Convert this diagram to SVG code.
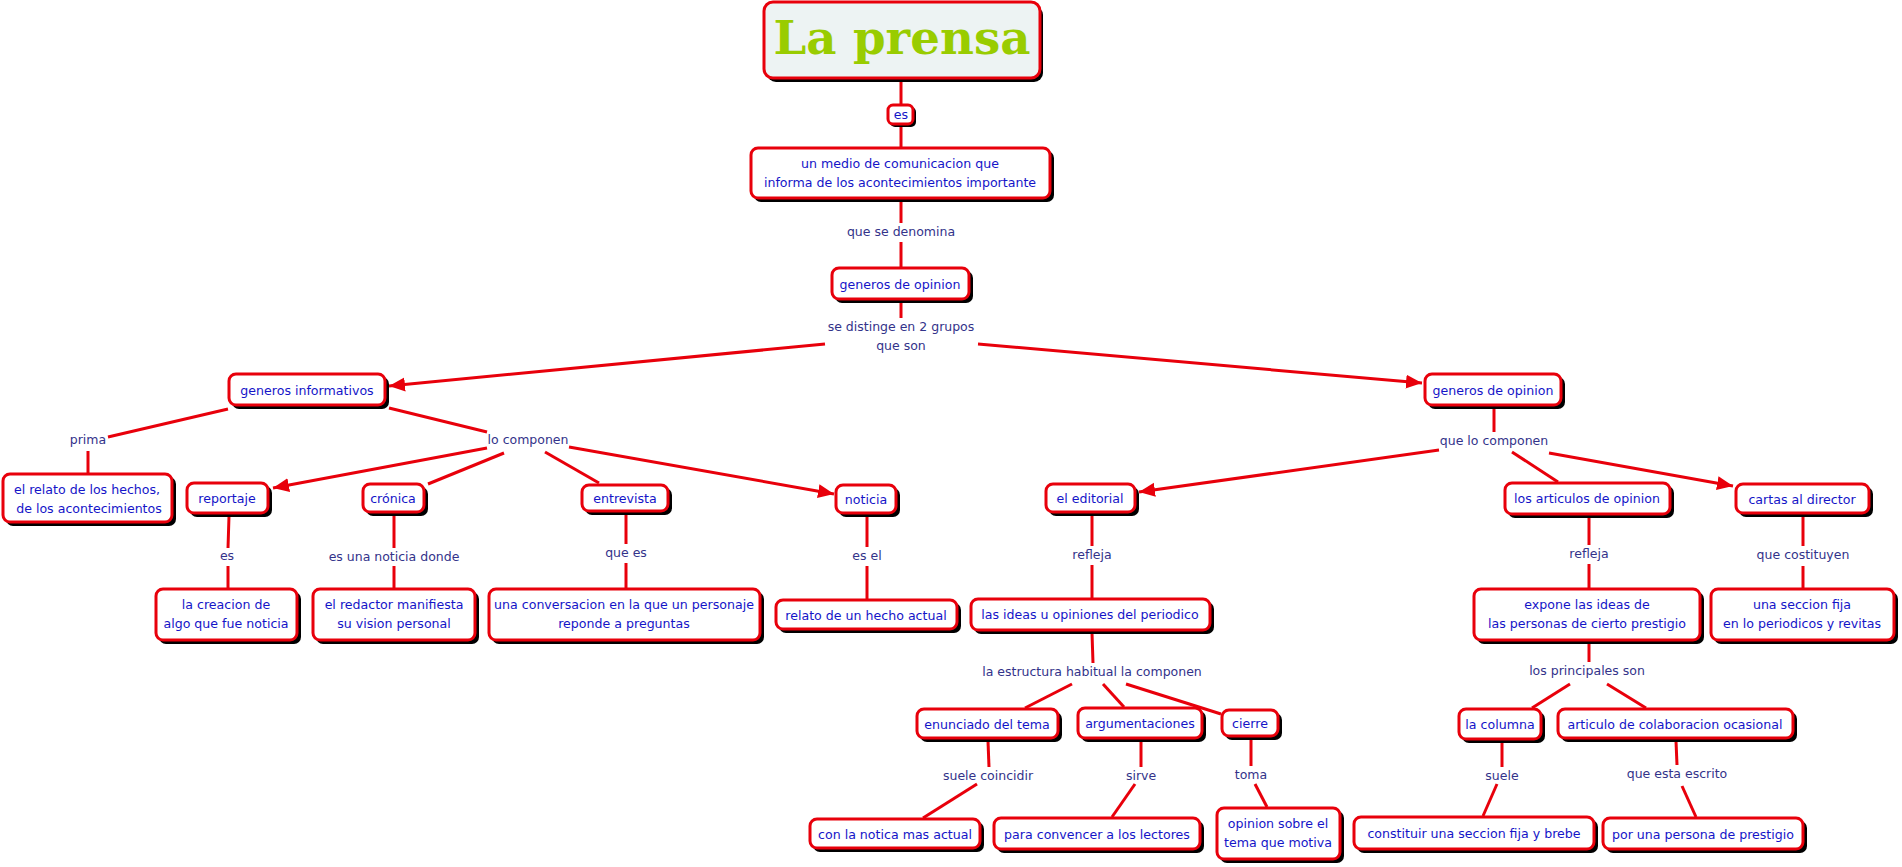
<svg xmlns="http://www.w3.org/2000/svg" width="1902" height="867" viewBox="0 0 1902 867">
<defs>
<style>
.sh{fill:#000}
.bx{fill:#fff;stroke:#e8000b;stroke-width:3}
.tbx{fill:#edf3f3;stroke:#e8000b;stroke-width:3}
.nt{font-family:"DejaVu Sans",sans-serif;font-size:12.6px;fill:#1515c8;text-anchor:middle}
.lt{font-family:"DejaVu Sans",sans-serif;font-size:12.5px;fill:#33338a;text-anchor:middle}
.title{font-family:"DejaVu Serif",serif;font-weight:bold;font-size:46px;fill:#99cc00;text-anchor:middle}
#connectors line{stroke:#e8000b;stroke-width:3;fill:none}
</style>
<marker id="ah" markerUnits="userSpaceOnUse" markerWidth="18" markerHeight="16" viewBox="0 0 18 16" refX="16" refY="8" orient="auto">
<path d="M0,1 L16,8 L0,15 Z" fill="#e8000b"/>
</marker>
</defs>
<rect width="1902" height="867" fill="#fff"/>
<g id="connectors">
<line x1="901" y1="80" x2="901" y2="104"/>
<line x1="901" y1="126" x2="901" y2="147"/>
<line x1="901" y1="201" x2="901" y2="223"/>
<line x1="901" y1="242" x2="901" y2="267"/>
<line x1="901" y1="302" x2="901" y2="318"/>
<line x1="825" y1="344" x2="389" y2="386" marker-end="url(#ah)"/>
<line x1="978" y1="344" x2="1422" y2="383" marker-end="url(#ah)"/>
<line x1="228" y1="409" x2="108" y2="437"/>
<line x1="88" y1="451" x2="88" y2="473"/>
<line x1="389" y1="408" x2="487" y2="432"/>
<line x1="487" y1="448" x2="273" y2="488" marker-end="url(#ah)"/>
<line x1="504" y1="453" x2="428" y2="484"/>
<line x1="545" y1="452" x2="599" y2="483"/>
<line x1="569" y1="447" x2="834" y2="494" marker-end="url(#ah)"/>
<line x1="229" y1="516" x2="228" y2="548"/>
<line x1="228" y1="566" x2="228" y2="588"/>
<line x1="394" y1="515" x2="394" y2="548"/>
<line x1="394" y1="566" x2="394" y2="588"/>
<line x1="626" y1="513" x2="626" y2="544"/>
<line x1="626" y1="563" x2="626" y2="588"/>
<line x1="867" y1="516" x2="867" y2="547"/>
<line x1="867" y1="566" x2="867" y2="599"/>
<line x1="1494" y1="408" x2="1494" y2="432"/>
<line x1="1439" y1="450" x2="1139" y2="492" marker-end="url(#ah)"/>
<line x1="1512" y1="452" x2="1558" y2="482"/>
<line x1="1549" y1="453" x2="1733" y2="486" marker-end="url(#ah)"/>
<line x1="1092" y1="515" x2="1092" y2="546"/>
<line x1="1092" y1="565" x2="1092" y2="598"/>
<line x1="1092" y1="633" x2="1093" y2="663"/>
<line x1="1072" y1="684" x2="1025" y2="708"/>
<line x1="1103" y1="684" x2="1124" y2="707"/>
<line x1="1126" y1="684" x2="1221" y2="714"/>
<line x1="988" y1="741" x2="989" y2="767"/>
<line x1="977" y1="784" x2="923" y2="818"/>
<line x1="1141" y1="741" x2="1141" y2="767"/>
<line x1="1135" y1="784" x2="1112" y2="817"/>
<line x1="1251" y1="739" x2="1251" y2="766"/>
<line x1="1255" y1="784" x2="1267" y2="807"/>
<line x1="1589" y1="517" x2="1589" y2="545"/>
<line x1="1589" y1="564" x2="1589" y2="588"/>
<line x1="1803" y1="516" x2="1803" y2="546"/>
<line x1="1803" y1="566" x2="1803" y2="588"/>
<line x1="1589" y1="643" x2="1589" y2="662"/>
<line x1="1570" y1="684" x2="1532" y2="708"/>
<line x1="1607" y1="684" x2="1646" y2="708"/>
<line x1="1502" y1="742" x2="1502" y2="767"/>
<line x1="1497" y1="784" x2="1483" y2="816"/>
<line x1="1676" y1="741" x2="1677" y2="765"/>
<line x1="1682" y1="786" x2="1696" y2="817"/>
</g>
<g id="labels">
<text class="lt" x="901" y="236">que se denomina</text>
<text class="lt" x="901" y="331">se distinge en 2 grupos</text>
<text class="lt" x="901" y="350">que son</text>
<text class="lt" x="88" y="444">prima</text>
<text class="lt" x="528" y="444">lo componen</text>
<text class="lt" x="227" y="560">es</text>
<text class="lt" x="394" y="561">es una noticia donde</text>
<text class="lt" x="626" y="557">que es</text>
<text class="lt" x="867" y="560">es el</text>
<text class="lt" x="1494" y="445">que lo componen</text>
<text class="lt" x="1092" y="559">refleja</text>
<text class="lt" x="1589" y="558">refleja</text>
<text class="lt" x="1803" y="559">que costituyen</text>
<text class="lt" x="1092" y="676">la estructura habitual la componen</text>
<text class="lt" x="1587" y="675">los principales son</text>
<text class="lt" x="988" y="780">suele coincidir</text>
<text class="lt" x="1141" y="780">sirve</text>
<text class="lt" x="1251" y="779">toma</text>
<text class="lt" x="1502" y="780">suele</text>
<text class="lt" x="1677" y="778">que esta escrito</text>
</g>
<g id="n_title"><rect class="sh" x="767" y="6" width="276" height="76" rx="9"/><rect class="tbx" x="764" y="2" width="276" height="76" rx="9"/><text class="title" x="902" y="54" textLength="257" lengthAdjust="spacingAndGlyphs">La prensa</text></g>
<g id="n_es"><rect class="sh" x="890" y="107" width="26" height="20" rx="5"/><rect class="bx" x="888" y="105" width="25" height="19" rx="5"/><text class="nt" x="901" y="119">es</text></g>
<g id="n_medio"><rect class="sh" x="754" y="151" width="300" height="51" rx="7"/><rect class="bx" x="751" y="148" width="299" height="50" rx="7"/><text class="nt" x="900" y="168">un medio de comunicacion que</text><text class="nt" x="900" y="187">informa de los acontecimientos importante</text></g>
<g id="n_gop1"><rect class="sh" x="835" y="271" width="138" height="32" rx="7"/><rect class="bx" x="832" y="268" width="137" height="31" rx="7"/><text class="nt" x="900" y="289">generos de opinion</text></g>
<g id="n_ginf"><rect class="sh" x="232" y="377" width="157" height="32" rx="7"/><rect class="bx" x="229" y="374" width="156" height="31" rx="7"/><text class="nt" x="307" y="395">generos informativos</text></g>
<g id="n_relato"><rect class="sh" x="6" y="477" width="170" height="49" rx="7"/><rect class="bx" x="3" y="474" width="169" height="48" rx="7"/><text class="nt" x="87" y="494">el relato de los hechos,</text><text class="nt" x="89" y="513">de los acontecimientos</text></g>
<g id="n_reportaje"><rect class="sh" x="190" y="486" width="82" height="31" rx="7"/><rect class="bx" x="187" y="483" width="81" height="30" rx="7"/><text class="nt" x="227" y="503">reportaje</text></g>
<g id="n_creacion"><rect class="sh" x="159" y="592" width="142" height="52" rx="7"/><rect class="bx" x="156" y="589" width="141" height="51" rx="7"/><text class="nt" x="226" y="609">la creacion de</text><text class="nt" x="226" y="628">algo que fue noticia</text></g>
<g id="n_cronica"><rect class="sh" x="366" y="487" width="62" height="29" rx="7"/><rect class="bx" x="363" y="484" width="61" height="28" rx="7"/><text class="nt" x="393" y="503">crónica</text></g>
<g id="n_redactor"><rect class="sh" x="316" y="592" width="163" height="52" rx="7"/><rect class="bx" x="313" y="589" width="162" height="51" rx="7"/><text class="nt" x="394" y="609">el redactor manifiesta</text><text class="nt" x="394" y="628">su vision personal</text></g>
<g id="n_entrevista"><rect class="sh" x="585" y="488" width="87" height="27" rx="7"/><rect class="bx" x="582" y="485" width="86" height="26" rx="7"/><text class="nt" x="625" y="503">entrevista</text></g>
<g id="n_conversacion"><rect class="sh" x="492" y="592" width="272" height="52" rx="7"/><rect class="bx" x="489" y="589" width="271" height="51" rx="7"/><text class="nt" x="624" y="609">una conversacion en la que un personaje</text><text class="nt" x="624" y="628">reponde a preguntas</text></g>
<g id="n_noticia"><rect class="sh" x="839" y="488" width="61" height="29" rx="7"/><rect class="bx" x="836" y="485" width="60" height="28" rx="7"/><text class="nt" x="866" y="504">noticia</text></g>
<g id="n_relatohecho"><rect class="sh" x="779" y="603" width="182" height="30" rx="7"/><rect class="bx" x="776" y="600" width="181" height="29" rx="7"/><text class="nt" x="866" y="620">relato de un hecho actual</text></g>
<g id="n_gop2"><rect class="sh" x="1428" y="377" width="137" height="32" rx="7"/><rect class="bx" x="1425" y="374" width="136" height="31" rx="7"/><text class="nt" x="1493" y="395">generos de opinion</text></g>
<g id="n_editorial"><rect class="sh" x="1049" y="487" width="90" height="29" rx="7"/><rect class="bx" x="1046" y="484" width="89" height="28" rx="7"/><text class="nt" x="1090" y="503">el editorial</text></g>
<g id="n_ideas"><rect class="sh" x="974" y="602" width="240" height="32" rx="7"/><rect class="bx" x="971" y="599" width="239" height="31" rx="7"/><text class="nt" x="1090" y="619">las ideas u opiniones del periodico</text></g>
<g id="n_articulos"><rect class="sh" x="1508" y="486" width="166" height="32" rx="7"/><rect class="bx" x="1505" y="483" width="165" height="31" rx="7"/><text class="nt" x="1587" y="503">los articulos de opinion</text></g>
<g id="n_cartas"><rect class="sh" x="1739" y="487" width="134" height="30" rx="7"/><rect class="bx" x="1736" y="484" width="133" height="29" rx="7"/><text class="nt" x="1802" y="504">cartas al director</text></g>
<g id="n_expone"><rect class="sh" x="1477" y="592" width="227" height="52" rx="7"/><rect class="bx" x="1474" y="589" width="226" height="51" rx="7"/><text class="nt" x="1587" y="609">expone las ideas de</text><text class="nt" x="1587" y="628">las personas de cierto prestigio</text></g>
<g id="n_seccion"><rect class="sh" x="1714" y="592" width="184" height="52" rx="7"/><rect class="bx" x="1711" y="589" width="183" height="51" rx="7"/><text class="nt" x="1802" y="609">una seccion fija</text><text class="nt" x="1802" y="628">en lo periodicos y revitas</text></g>
<g id="n_enunciado"><rect class="sh" x="920" y="712" width="142" height="30" rx="7"/><rect class="bx" x="917" y="709" width="141" height="29" rx="7"/><text class="nt" x="987" y="729">enunciado del tema</text></g>
<g id="n_argum"><rect class="sh" x="1081" y="711" width="125" height="31" rx="7"/><rect class="bx" x="1078" y="708" width="124" height="30" rx="7"/><text class="nt" x="1140" y="728">argumentaciones</text></g>
<g id="n_cierre"><rect class="sh" x="1225" y="713" width="57" height="27" rx="7"/><rect class="bx" x="1222" y="710" width="56" height="26" rx="7"/><text class="nt" x="1250" y="728">cierre</text></g>
<g id="n_notica"><rect class="sh" x="813" y="822" width="171" height="30" rx="7"/><rect class="bx" x="810" y="819" width="170" height="29" rx="7"/><text class="nt" x="895" y="839">con la notica mas actual</text></g>
<g id="n_convencer"><rect class="sh" x="997" y="821" width="207" height="32" rx="7"/><rect class="bx" x="994" y="818" width="206" height="31" rx="7"/><text class="nt" x="1097" y="839">para convencer a los lectores</text></g>
<g id="n_opinion"><rect class="sh" x="1220" y="811" width="124" height="52" rx="7"/><rect class="bx" x="1217" y="808" width="123" height="51" rx="7"/><text class="nt" x="1278" y="828">opinion sobre el</text><text class="nt" x="1278" y="847">tema que motiva</text></g>
<g id="n_columna"><rect class="sh" x="1462" y="712" width="83" height="31" rx="7"/><rect class="bx" x="1459" y="709" width="82" height="30" rx="7"/><text class="nt" x="1500" y="729">la columna</text></g>
<g id="n_colab"><rect class="sh" x="1561" y="712" width="236" height="30" rx="7"/><rect class="bx" x="1558" y="709" width="235" height="29" rx="7"/><text class="nt" x="1675" y="729">articulo de colaboracion ocasional</text></g>
<g id="n_constituir"><rect class="sh" x="1357" y="820" width="241" height="33" rx="7"/><rect class="bx" x="1354" y="817" width="240" height="32" rx="7"/><text class="nt" x="1474" y="838">constituir una seccion fija y brebe</text></g>
<g id="n_persona"><rect class="sh" x="1606" y="821" width="201" height="32" rx="7"/><rect class="bx" x="1603" y="818" width="200" height="31" rx="7"/><text class="nt" x="1703" y="839">por una persona de prestigio</text></g>
</svg>
